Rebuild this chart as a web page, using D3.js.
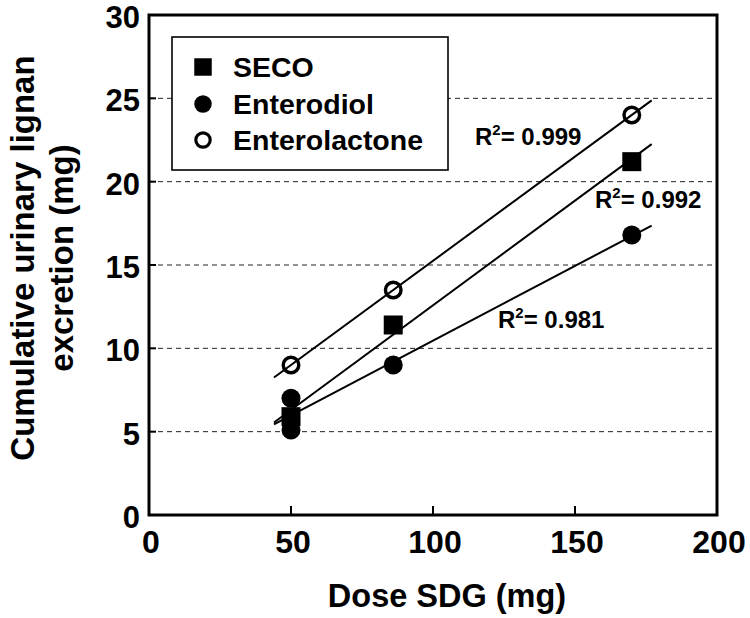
<!DOCTYPE html>
<html>
<head>
<meta charset="utf-8">
<script src="https://cdn.jsdelivr.net/npm/d3@7"></script>
<style>
  html, body { margin: 0; padding: 0; background: #fff; }
  svg { display: block; }
  text { font-family: "Liberation Sans", Arial, Helvetica, sans-serif; font-weight: bold; fill: #000; }
</style>
</head>
<body>
<svg id="chart" width="750" height="618"></svg>
<script>
// ---- data ----
const xTicks = [0, 50, 100, 150, 200];
const yTicks = [0, 5, 10, 15, 20, 25, 30];
const seriesNames = ["SECO", "Enterodiol", "Enterolactone"];
const secoX = [50, 86, 170];
const secoY = [5.9, 11.4, 21.2];
const enterodiolX = [50, 50, 86, 170];
const enterodiolY = [7.0, 5.1, 9.0, 16.8];
const enterolactoneX = [50, 86, 170];
const enterolactoneY = [9.0, 13.5, 24.0];
const fitRange = [44, 177];
const r2Labels = ["0.992", "0.981", "0.999"];

// ---- layout ----
const svg = d3.select("#chart");
const L = 149, R = 717, T = 15, B = 515;
const x = d3.scaleLinear().domain([0, 200]).range([L, R]);
const y = d3.scaleLinear().domain([0, 30]).range([B, T]);

// grid lines
svg.append("g").selectAll("line").data(yTicks.filter(d => d > 0 && d < 30)).join("line")
  .attr("x1", L).attr("x2", R)
  .attr("y1", d => y(d)).attr("y2", d => y(d))
  .attr("stroke", "#222").attr("stroke-width", 1).attr("stroke-dasharray", "5,4");

// inward ticks
svg.append("g").selectAll("line").data(yTicks.filter(d => d > 0 && d < 30)).join("line")
  .attr("x1", L).attr("x2", L + 7)
  .attr("y1", d => y(d)).attr("y2", d => y(d))
  .attr("stroke", "#000").attr("stroke-width", 2);
svg.append("g").selectAll("line").data(xTicks.filter(d => d > 0 && d < 200)).join("line")
  .attr("x1", d => x(d)).attr("x2", d => x(d))
  .attr("y1", B).attr("y2", B - 9)
  .attr("stroke", "#000").attr("stroke-width", 2);

// tick labels
svg.append("g").selectAll("text").data(yTicks).join("text")
  .attr("x", L - 9).attr("y", d => y(d)).attr("dy", "0.42em")
  .attr("text-anchor", "end").attr("font-size", 31)
  .text(d => d);
svg.append("g").selectAll("text").data(xTicks).join("text")
  .attr("x", d => x(d) + 2).attr("y", B + 38)
  .attr("text-anchor", "middle").attr("font-size", 32)
  .text(d => d);

// axis titles
svg.append("text").attr("x", 447).attr("y", 607).attr("text-anchor", "middle")
  .attr("font-size", 32.5).text("Dose SDG (mg)");
const yt = svg.append("text").attr("transform", "translate(34,258) rotate(-90)")
  .attr("text-anchor", "middle").attr("font-size", 33);
yt.append("tspan").attr("x", 0).attr("y", 0).text("Cumulative urinary lignan");
yt.append("tspan").attr("x", 0).attr("y", 39).text("excretion (mg)");

// regression lines (least squares from data)
function fit(xs, ys) {
  const mx = d3.mean(xs), my = d3.mean(ys);
  let sxy = 0, sxx = 0;
  xs.forEach((v, i) => { sxy += (v - mx) * (ys[i] - my); sxx += (v - mx) * (v - mx); });
  const m = sxy / sxx;
  return { m, b: my - m * mx };
}
const allSeries = [
  { xs: secoX, ys: secoY, kind: "square" },
  { xs: enterodiolX, ys: enterodiolY, kind: "filled" },
  { xs: enterolactoneX, ys: enterolactoneY, kind: "open" }
];
const lineGen = d3.line().x(d => x(d[0])).y(d => y(d[1]));
allSeries.forEach(s => {
  const f = fit(s.xs, s.ys);
  svg.append("path")
    .attr("d", lineGen(fitRange.map(v => [v, f.m * v + f.b])))
    .attr("fill", "none").attr("stroke", "#000").attr("stroke-width", 2);
});

// markers
function drawMarker(g, kind, cx, cy, scale) {
  const k = scale || 1;
  if (kind === "square") {
    g.append("rect").attr("x", cx - 9.5 * k).attr("y", cy - 9.5 * k)
      .attr("width", 19 * k).attr("height", 19 * k).attr("fill", "#000");
  } else if (kind === "filled") {
    g.append("circle").attr("cx", cx).attr("cy", cy).attr("r", 9.5 * k).attr("fill", "#000");
  } else {
    g.append("circle").attr("cx", cx).attr("cy", cy).attr("r", 7.8 * k)
      .attr("fill", "none").attr("stroke", "#000").attr("stroke-width", 3.4 * k);
  }
}
const mg = svg.append("g");
allSeries.forEach(s => {
  s.xs.forEach((v, i) => drawMarker(mg, s.kind, x(v), y(s.ys[i])));
});

// R² labels
const r2Pos = [[595, 208], [498, 328], [475, 145]];
r2Labels.forEach((lab, i) => {
  const t = svg.append("text").attr("x", r2Pos[i][0]).attr("y", r2Pos[i][1]).attr("font-size", 24);
  t.append("tspan").text("R");
  t.append("tspan").attr("font-size", 15).attr("dy", -10).text("2");
  t.append("tspan").attr("dy", 10).text("= " + lab);
});

// legend
const lg = svg.append("g");
lg.append("rect").attr("x", 172).attr("y", 37).attr("width", 276).attr("height", 133)
  .attr("fill", "#fff").attr("stroke", "#000").attr("stroke-width", 1.6);
const legendRows = [67, 104, 140];
seriesNames.forEach((name, i) => {
  drawMarker(lg, allSeries[i].kind, 203, legendRows[i], 0.92);
  lg.append("text").attr("x", 233).attr("y", legendRows[i]).attr("dy", "0.36em")
    .attr("font-size", 28.5).text(name);
});

// frame
svg.append("rect").attr("x", L).attr("y", T).attr("width", R - L).attr("height", B - T)
  .attr("fill", "none").attr("stroke", "#000").attr("stroke-width", 3);
</script>
</body>
</html>
